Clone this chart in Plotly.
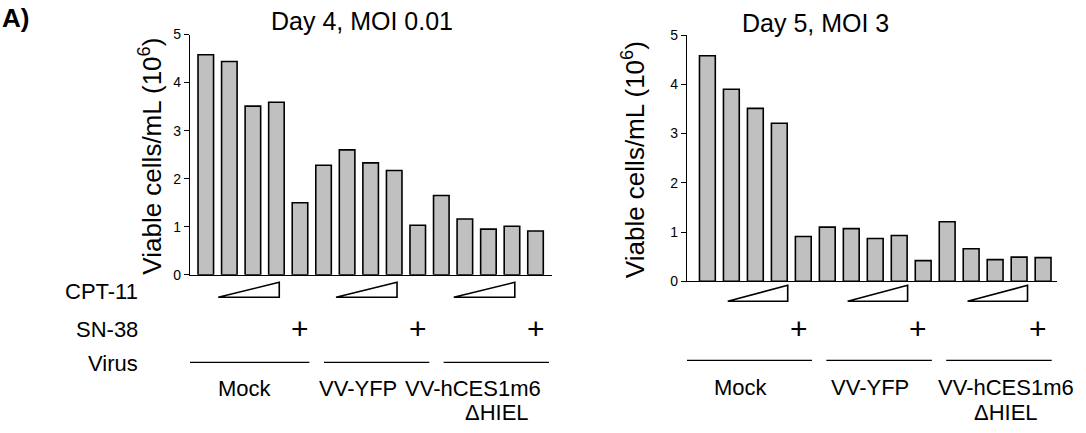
import plotly.graph_objects as go

# ---------------- data ----------------
bar_labels = ["untreated", "CPT-11 low", "CPT-11 mid", "CPT-11 high", "SN-38"]
groups = ["Mock", "VV-YFP", "VV-hCES1m6<br>ΔHIEL"]
categories = [f"{g.split('<br>')[0]} {b}" for g in groups for b in bar_labels]

day4_moi001 = [4.58, 4.44, 3.51, 3.59, 1.50,
               2.28, 2.60, 2.33, 2.17, 1.03,
               1.65, 1.16, 0.95, 1.01, 0.91]
day5_moi3 = [4.58, 3.90, 3.51, 3.21, 0.91,
             1.10, 1.07, 0.87, 0.93, 0.42,
             1.21, 0.66, 0.44, 0.49, 0.48]

titles = ["Day 4, MOI 0.01", "Day 5, MOI 3"]
y_title = "Viable cells/mL (10<sup>6</sup>)"
row_labels = ["CPT-11", "SN-38", "Virus"]
y_ticks = [0, 1, 2, 3, 4, 5]

# ---------------- layout helpers ----------------
W, H = 1086, 433
FONT = "Arial"


def px(x):
    return x / W


def py(y):
    # vertical pixel position -> paper fraction (with a small empirical correction)
    yy = (y - 7.0) / 0.962
    return 1 - yy / H


xpos = list(range(len(categories)))
group_starts = [0, 5, 10]

fig = go.Figure()
bar_style = dict(marker=dict(color="#c0c0c0", line=dict(color="black", width=1.6)),
                 width=0.66, showlegend=False, hoverinfo="x+y")
fig.add_trace(go.Bar(x=xpos, y=day4_moi001, xaxis="x", yaxis="y",
                     customdata=categories, **bar_style))
fig.add_trace(go.Bar(x=xpos, y=day5_moi3, xaxis="x2", yaxis="y2",
                     customdata=categories, **bar_style))

xa = dict(showline=True, linecolor="black", linewidth=1.2, showticklabels=False,
          ticks="", showgrid=False, zeroline=False, fixedrange=True)
ya = dict(range=[0, 5], tickvals=y_ticks, ticks="outside", ticklen=5, tickwidth=1,
          tickcolor="black", showline=True, linecolor="black", linewidth=1.2,
          showgrid=False, zeroline=False, tickfont=dict(family=FONT, size=14, color="black"))

# panel geometry (pixels)
panels = [
    dict(x0=190, x1=552, ytop=33.5, ybot=273.5, xr=[-0.67, 14.7],
         title_xy=(362, 20), ytitle_x=151,
         tri=(0.53, 3.12, 281, 296), plus_off=0.0,
         lines=[(-0.74, 4.4), (5.02, 9.49), (10.1, 14.57)], line_y=361,
         labels=[(245, 387), (358, 387), (473, 387)], delta=(497, 411)),
    dict(x0=687, x1=1057, ytop=34, ybot=280, xr=[-0.85, 14.58],
         title_xy=(815, 22), ytitle_x=633,
         tri=(0.85, 3.35, 284, 300), plus_off=-0.2,
         lines=[(-1.05, 4.36), (4.96, 9.36), (9.96, 14.36)], line_y=359,
         labels=[(741, 386), (870, 386), (1006, 386)], delta=(1006, 411)),
]

layout_axes = {}
annotations = []
shapes = []
for i, p in enumerate(panels):
    sx = "" if i == 0 else str(i + 1)
    layout_axes["xaxis" + sx] = dict(xa, domain=[px(p["x0"]), px(p["x1"])], range=p["xr"],
                                     anchor="y" + sx)
    layout_axes["yaxis" + sx] = dict(ya, domain=[py(p["ybot"]), py(p["ytop"])],
                                     anchor="x" + sx)
    xref = "x" + sx
    # title
    annotations.append(dict(text=titles[i], x=px(p["title_xy"][0]), y=py(p["title_xy"][1]),
                            xref="paper", yref="paper", showarrow=False,
                            xanchor="center", yanchor="middle",
                            font=dict(family=FONT, size=25, color="black")))
    # y title
    annotations.append(dict(text=y_title, x=px(p["ytitle_x"]), y=py((p["ytop"] + p["ybot"]) / 2 + 2),
                            xref="paper", yref="paper", showarrow=False, textangle=-90,
                            xanchor="center", yanchor="middle",
                            font=dict(family=FONT, size=26, color="black")))
    t0, t1, ttop, tbot = p["tri"]
    for gi, gs in enumerate(group_starts):
        # CPT-11 gradient triangle
        shapes.append(dict(type="path", xref=xref, yref="paper",
                           path=f"M {gs + t0},{py(tbot)} L {gs + t1},{py(ttop)} L {gs + t1},{py(tbot)} Z",
                           line=dict(color="black", width=1.6), fillcolor="white"))
        # SN-38 plus
        annotations.append(dict(text="+", x=gs + 4 + p["plus_off"], y=py(327), xref=xref,
                                yref="paper", showarrow=False, xanchor="center", yanchor="middle",
                                font=dict(family=FONT, size=30, color="black")))
        # virus line
        l0, l1 = p["lines"][gi]
        shapes.append(dict(type="line", xref=xref, yref="paper", x0=l0, x1=l1,
                           y0=py(p["line_y"]), y1=py(p["line_y"]),
                           line=dict(color="black", width=1.4)))
        name = groups[gi].split("<br>")[0]
        lx, ly = p["labels"][gi]
        annotations.append(dict(text=name, x=px(lx), y=py(ly), xref="paper", yref="paper",
                                showarrow=False, xanchor="center", yanchor="middle",
                                font=dict(family=FONT, size=22, color="black")))
    dx, dy = p["delta"]
    annotations.append(dict(text=groups[2].split("<br>")[1], x=px(dx), y=py(dy), xref="paper",
                            yref="paper", showarrow=False, xanchor="center", yanchor="middle",
                            font=dict(family=FONT, size=22, color="black")))

# row labels (left panel only)
for lab, yy in zip(row_labels, [290, 328, 362]):
    annotations.append(dict(text=lab, x=px(140), y=py(yy), xref="paper", yref="paper",
                            showarrow=False, xanchor="right", yanchor="middle",
                            font=dict(family=FONT, size=22, color="black")))

# panel letter
annotations.append(dict(text="<b>A)</b>", x=px(0), y=py(17), xref="paper", yref="paper",
                        showarrow=False, xanchor="left", yanchor="middle",
                        font=dict(family=FONT, size=26, color="black")))

fig.update_layout(width=W, height=H, margin=dict(l=0, r=0, t=0, b=0),
                  paper_bgcolor="white", plot_bgcolor="white",
                  annotations=annotations, shapes=shapes, bargap=0.3,
                  **layout_axes)

fig.write_html("out.html", config={"displayModeBar": False},
               post_script="document.body.style.margin='0';document.body.style.overflow='hidden';")
